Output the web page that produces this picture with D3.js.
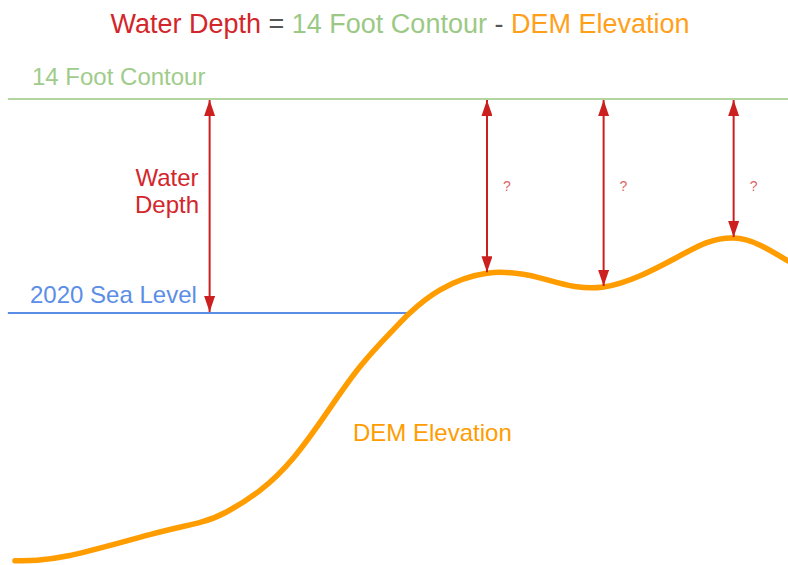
<!DOCTYPE html>
<html>
<head>
<meta charset="utf-8">
<script src="https://cdn.jsdelivr.net/npm/d3@7"></script>
<style>
  body { margin: 0; background: #fff; }
  text { font-family: "Liberation Sans", Arial, sans-serif; }
</style>
</head>
<body>
<div id="chart"></div>
<script>
// DEM profile: distance (0-100) and elevation in feet (0 = 2020 sea level)
var demDistance = [1.9, 8.5, 19.0, 25.4, 28.8, 33.0, 37.2, 41.5, 45.7, 49.9, 52.0, 55.8, 61.8, 68.5, 76.6, 85.4, 89.7, 93.1, 96.4, 100];
var demElevation = [-16.2, -15.9, -14.5, -13.7, -13.0, -11.6, -9.5, -6.5, -3.5, -1.1, 0, 1.5, 2.6, 2.3, 1.7, 3.5, 4.6, 4.9, 4.45, 3.4];

var contourLevel = 14;
var seaLevel = 0;
var seaLevelEnd = 52.0;

// depth arrows: where they stand and the ground they point down to
var arrowDistance = [26.6, 61.8, 76.6, 93.1];
var arrowBottom = [0, 2.6, 1.7, 4.9];
var arrowLabels = ["", "?", "?", "?"];

var width = 788, height = 565;

var x = d3.scaleLinear().domain([0, 100]).range([0, 788]);
var y = d3.scaleLinear().domain([0, 14]).range([313, 99]);

var svg = d3.select("#chart").append("svg")
    .attr("width", width)
    .attr("height", height);

var defs = svg.append("defs");
defs.append("marker")
    .attr("id", "head")
    .attr("viewBox", "0 0 10 10")
    .attr("refX", 10).attr("refY", 5)
    .attr("markerWidth", 16).attr("markerHeight", 11)
    .attr("markerUnits", "userSpaceOnUse")
    .attr("orient", "auto-start-reverse")
    .attr("preserveAspectRatio", "none")
  .append("path")
    .attr("d", "M0,0 L10,5 L0,10 Z")
    .attr("fill", "#cc1f1f");

// title
var title = svg.append("text")
    .attr("x", 400).attr("y", 33)
    .attr("text-anchor", "middle")
    .style("font-size", "27px");
title.append("tspan").text("Water Depth").attr("fill", "#d3262b");
title.append("tspan").text(" = ").attr("fill", "#555");
title.append("tspan").text("14 Foot Contour").attr("fill", "#9bc985");
title.append("tspan").text(" - ").attr("fill", "#555");
title.append("tspan").text("DEM Elevation").attr("fill", "#ff9f1a");

// 14 foot contour line
svg.append("line")
    .attr("x1", x(1)).attr("x2", x(100))
    .attr("y1", y(contourLevel)).attr("y2", y(contourLevel))
    .attr("stroke", "#b3d6a0")
    .attr("stroke-width", 2);

svg.append("text")
    .attr("x", 32).attr("y", 85)
    .attr("fill", "#9fcc8a")
    .style("font-size", "24px")
    .text("14 Foot Contour");

// sea level line
svg.append("line")
    .attr("x1", x(1)).attr("x2", x(seaLevelEnd))
    .attr("y1", y(seaLevel)).attr("y2", y(seaLevel))
    .attr("stroke", "#5b8ee6")
    .attr("stroke-width", 2);

svg.append("text")
    .attr("x", 30).attr("y", 303)
    .attr("fill", "#5b8ee6")
    .style("font-size", "24px")
    .text("2020 Sea Level");

// DEM elevation curve
var dem = demDistance.map(function(d, i) { return [d, demElevation[i]]; });
var line = d3.line()
    .x(function(d) { return x(d[0]); })
    .y(function(d) { return y(d[1]); })
    .curve(d3.curveNatural);

svg.append("path")
    .datum(dem)
    .attr("d", line)
    .attr("fill", "none")
    .attr("stroke", "#ff9c00")
    .attr("stroke-width", 5.5)
    .attr("stroke-linecap", "round");

svg.append("text")
    .attr("x", 353).attr("y", 441)
    .attr("fill", "#ff9c00")
    .style("font-size", "24px")
    .text("DEM Elevation");

// depth arrows
arrowDistance.forEach(function(d, i) {
  svg.append("line")
      .attr("x1", x(d)).attr("x2", x(d))
      .attr("y1", y(contourLevel) + 1).attr("y2", y(arrowBottom[i]) - 1)
      .attr("stroke", "#cc1f1f")
      .attr("stroke-width", 2)
      .attr("marker-start", "url(#head)")
      .attr("marker-end", "url(#head)");
  if (arrowLabels[i]) {
    svg.append("text")
        .attr("x", x(d) + 16).attr("y", 191)
        .attr("fill", "#e06666")
        .style("font-size", "14px")
        .text(arrowLabels[i]);
  }
});

var wd = svg.append("text")
    .attr("text-anchor", "middle")
    .attr("fill", "#d3262b")
    .style("font-size", "24px");
wd.append("tspan").attr("x", 167).attr("y", 186).text("Water");
wd.append("tspan").attr("x", 167).attr("y", 213).text("Depth");
</script>
</body>
</html>
